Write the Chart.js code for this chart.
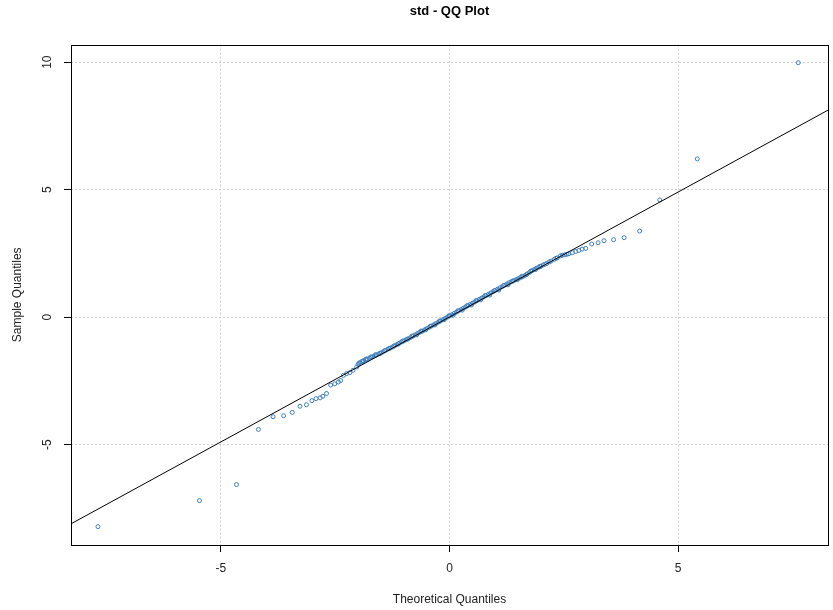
<!DOCTYPE html>
<html>
<head>
<meta charset="utf-8">
<script src="https://cdn.jsdelivr.net/npm/chart.js@4"></script>
<style>
  body { margin: 0; background: #fff; }
</style>
</head>
<body>
<canvas id="qq" width="833" height="610"></canvas>
<script>
// theoretical quantiles (x) and sample quantiles (y)
const theoretical = [
  -7.69, -5.47, -4.66, -4.18, -3.86, -3.63, -3.44, -3.27, -3.13, -3.01,
  -2.92, -2.83, -2.77, -2.69, -2.60, -2.51, -2.43, -2.38, -2.32, -2.25,
  -2.18, -2.11, -2.03, -2.00, -1.96, -1.92, -1.88, -1.84, -1.80, -1.75,
  -1.70, -1.65, -1.60, -1.55, -1.50, -1.45, -1.40, -1.35, -1.30, -1.25,
  -1.20, -1.15, -1.10, -1.05, -1.00, -0.95, -0.90, -0.85, -0.80, -0.75,
  -0.70, -0.65, -0.60, -0.55, -0.50, -0.45, -0.40, -0.35, -0.30, -0.25,
  -0.20, -0.15, -0.10, -0.05, 0.00, 0.05, 0.10, 0.15, 0.20, 0.25,
  0.30, 0.35, 0.40, 0.45, 0.50, 0.55, 0.60, 0.65, 0.70, 0.75,
  0.80, 0.85, 0.90, 0.95, 1.00, 1.05, 1.10, 1.15, 1.20, 1.25,
  1.30, 1.35, 1.40, 1.45, 1.50, 1.55, 1.60, 1.65, 1.70, 1.75,
  1.80, 1.85, 1.90, 1.95, 2.00, 2.05, 2.09, 2.13, 2.22, 2.29,
  2.36, 2.43, 2.52, 2.61, 2.69, 2.76, 2.83, 2.90, 2.98, 3.11,
  3.25, 3.38, 3.59, 3.82, 4.16, 4.60, 5.42, 7.63
];
const sample = [
  -8.21, -7.19, -6.56, -4.40, -3.90, -3.86, -3.73, -3.49, -3.43, -3.27,
  -3.19, -3.16, -3.10, -2.99, -2.66, -2.61, -2.54, -2.48, -2.28, -2.21,
  -2.17, -2.08, -1.95, -1.85, -1.78, -1.74, -1.71, -1.67, -1.64, -1.60,
  -1.56, -1.52, -1.48, -1.44, -1.40, -1.35, -1.30, -1.25, -1.21, -1.17,
  -1.12, -1.07, -1.02, -0.97, -0.93, -0.88, -0.84, -0.79, -0.74, -0.69,
  -0.64, -0.59, -0.55, -0.50, -0.45, -0.40, -0.35, -0.30, -0.25, -0.20,
  -0.15, -0.10, -0.05, 0.00, 0.05, 0.10, 0.15, 0.20, 0.25, 0.30,
  0.35, 0.40, 0.45, 0.50, 0.55, 0.60, 0.65, 0.70, 0.75, 0.80,
  0.85, 0.90, 0.95, 1.00, 1.05, 1.10, 1.15, 1.20, 1.25, 1.30,
  1.35, 1.39, 1.43, 1.47, 1.51, 1.55, 1.59, 1.64, 1.70, 1.76,
  1.82, 1.87, 1.92, 1.96, 2.00, 2.05, 2.08, 2.11, 2.20, 2.27,
  2.33, 2.41, 2.45, 2.49, 2.53, 2.58, 2.62, 2.67, 2.70, 2.87,
  2.92, 3.00, 3.04, 3.12, 3.38, 4.60, 6.21, 9.98
];
// extra points filling the dense middle band (upper/lower edge of the band)
const bandTheoretical = [
  -1.98, -1.90, -1.82, -1.72, -1.62, -1.52, -1.42, -1.32, -1.22, -1.12,
  -1.02, -0.92, -0.82, -0.72, -0.62, -0.52, -0.42, -0.32, -0.22, -0.12,
  -0.02, 0.08, 0.18, 0.28, 0.38, 0.48, 0.58, 0.68, 0.78, 0.88,
  0.98, 1.08, 1.18, 1.28, 1.38, 1.48, 1.58, 1.68, 1.78, 1.88,
  1.98, 2.18, 2.33, 2.47, 2.57
];
const bandSample = [
  -1.80, -1.72, -1.64, -1.56, -1.47, -1.41, -1.31, -1.23, -1.13, -1.05,
  -0.93, -0.86, -0.74, -0.69, -0.54, -0.49, -0.35, -0.30, -0.15, -0.10,
  0.05, 0.08, 0.25, 0.28, 0.45, 0.48, 0.65, 0.68, 0.85, 0.87,
  1.04, 1.07, 1.24, 1.27, 1.42, 1.47, 1.60, 1.67, 1.81, 1.87,
  2.00, 2.17, 2.31, 2.43, 2.47
];
// reference line end points (qqline) and axis setup
const lineX = [-8.28, 8.28];
const lineY = [-8.10, 8.12];
const xTicks = [-5, 0, 5];
const yTicks = [-5, 0, 5, 10];
const xRange = [-8.28, 8.28];
const yRange = [-8.93, 10.69];

const points = theoretical.map((x, i) => ({ x: x, y: sample[i] }))
  .concat(bandTheoretical.map((x, i) => ({ x: x, y: bandSample[i] })));
const qqLine = lineX.map((x, i) => ({ x: x, y: lineY[i] }));

const fontFamily = '"Liberation Sans", Arial, sans-serif';

const boxPlugin = {
  id: 'plotBox',
  afterDraw(chart) {
    const a = chart.chartArea;
    const ctx = chart.ctx;
    ctx.save();
    ctx.strokeStyle = '#000';
    ctx.lineWidth = 1;
    ctx.strokeRect(Math.round(a.left) + 0.5, Math.round(a.top) + 0.5,
      Math.round(a.right - a.left), Math.round(a.bottom - a.top));
    ctx.restore();
  }
};

new Chart(document.getElementById('qq').getContext('2d'), {
  type: 'scatter',
  data: {
    datasets: [{
      type: 'line',
      data: qqLine,
      borderColor: '#000',
      borderWidth: 1,
      pointRadius: 0,
      fill: false
    }, {
      data: points,
      pointStyle: 'circle',
      pointRadius: 2,
      borderWidth: 1,
      borderColor: '#3f7fbf',
      backgroundColor: 'rgba(0,0,0,0)'
    }]
  },
  options: {
    responsive: false,
    animation: false,
    layout: { padding: { left: 0, right: 4, top: 0, bottom: 0 } },
    plugins: {
      legend: { display: false },
      tooltip: { enabled: false },
      title: {
        display: true,
        text: 'std - QQ Plot',
        fullSize: false,
        color: '#000',
        font: { family: fontFamily, size: 13, weight: 'bold' },
        padding: { top: 4, bottom: 25 }
      }
    },
    scales: {
      x: {
        type: 'linear',
        min: xRange[0],
        max: xRange[1],
        afterBuildTicks: s => { s.ticks = xTicks.map(v => ({ value: v })); },
        afterFit: s => { s.height = 65; },
        ticks: {
          color: '#222',
          padding: 9,
          maxRotation: 0,
          font: { family: fontFamily, size: 12 }
        },
        grid: {
          color: '#cfcfcf',
          tickColor: '#000',
          tickLength: 7,
          tickBorderDash: []
        },
        border: { display: false, dash: [2, 2] },
        title: {
          display: true,
          text: 'Theoretical Quantiles',
          color: '#222',
          font: { family: fontFamily, size: 12 },
          padding: { top: 0, bottom: 3 }
        }
      },
      y: {
        type: 'linear',
        min: yRange[0],
        max: yRange[1],
        afterBuildTicks: s => { s.ticks = yTicks.map(v => ({ value: v })); },
        afterFit: s => { s.width = 71; },
        ticks: {
          color: '#222',
          padding: 10,
          minRotation: 90,
          maxRotation: 90,
          crossAlign: 'center',
          font: { family: fontFamily, size: 12 }
        },
        grid: {
          color: '#cfcfcf',
          tickColor: '#000',
          tickLength: 7,
          tickBorderDash: []
        },
        border: { display: false, dash: [2, 2] },
        title: {
          display: true,
          text: 'Sample Quantiles',
          color: '#222',
          font: { family: fontFamily, size: 12 },
          padding: { top: 10, bottom: 0 }
        }
      }
    }
  },
  plugins: [boxPlugin]
});
</script>
</body>
</html>
